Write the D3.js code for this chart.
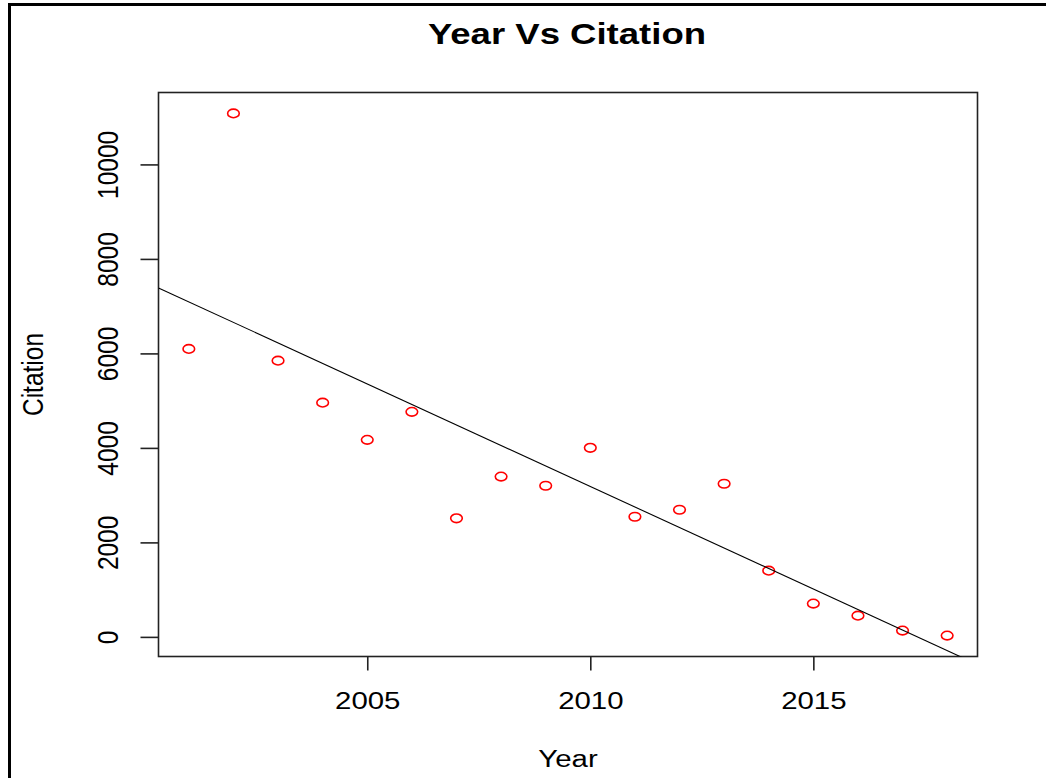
<!DOCTYPE html>
<html>
<head>
<meta charset="utf-8">
<script src="https://cdn.jsdelivr.net/npm/d3@7"></script>
<style>
    html, body { margin: 0; padding: 0; background: #fff; }
    svg { display: block; font-family: "Liberation Sans", Arial, sans-serif; }
</style>
</head>
<body>
<div id="chart"></div>
<script>
const years = [2001, 2002, 2003, 2004, 2005, 2006, 2007, 2008, 2009, 2010, 2011, 2012, 2013, 2014, 2015, 2016, 2017, 2018];
const citations = [6095, 11080, 5846, 4958, 4171, 4763, 2510, 3392, 3199, 4002, 2543, 2691, 3241, 1402, 704, 450, 133, 27];
const xTicks = [2005, 2010, 2015];
const yTicks = [0, 2000, 4000, 6000, 8000, 10000];

class ScatterChart
{
    constructor(el)
    {
        this.width = 1046;
        this.height = 778;
        this.frame = { left: 158.5, top: 92.5, right: 977.5, bottom: 656.5 };
        this.textScale = 1.2;
        this.svg = d3.select(el).append("svg")
            .attr("width", this.width)
            .attr("height", this.height);
    }

    // R style range: data extent padded by 4% on each side
    _padded(values)
    {
        const [lo, hi] = d3.extent(values);
        const pad = (hi - lo) * 0.04;
        return [lo - pad, hi + pad];
    }

    init()
    {
        const f = this.frame;
        this.x = d3.scaleLinear().domain(this._padded(years)).range([f.left, f.right]);
        this.y = d3.scaleLinear().domain(this._padded(citations)).range([f.bottom, f.top]);

        this._drawBorder();
        this._drawAxes();
        this._drawPoints();
        this._drawFit();
        this._drawTitles();
    }

    _drawBorder()
    {
        // outer frame runs off the right and bottom edges
        this.svg.append("path")
            .attr("d", `M9.5,${this.height + 5} V4.5 H${this.width + 5}`)
            .attr("fill", "none")
            .attr("stroke", "#000")
            .attr("stroke-width", 3);

        const f = this.frame;
        this.svg.append("rect")
            .attr("x", f.left).attr("y", f.top)
            .attr("width", f.right - f.left).attr("height", f.bottom - f.top)
            .attr("fill", "none")
            .attr("stroke", "#222")
            .attr("stroke-width", 1.6);
    }

    _drawAxes()
    {
        const f = this.frame;
        const s = this.textScale;

        const xAxis = this.svg.append("g")
            .attr("transform", `translate(0,${f.bottom})`)
            .call(d3.axisBottom(this.x).tickValues(xTicks).tickFormat(d3.format("d")).tickSize(14).tickSizeOuter(0));
        xAxis.select(".domain").remove();
        xAxis.selectAll("line").attr("stroke", "#222").attr("stroke-width", 1.6);
        xAxis.selectAll("text").remove();
        xAxis.selectAll(".tick").append("text")
            .attr("transform", `translate(0,52) scale(${s},1)`)
            .attr("text-anchor", "middle")
            .attr("fill", "#000")
            .attr("font-size", 24.5)
            .text(d => d);

        const yAxis = this.svg.append("g")
            .attr("transform", `translate(${f.left},0)`)
            .call(d3.axisLeft(this.y).tickValues(yTicks).tickFormat(d3.format("d")).tickSize(18).tickSizeOuter(0));
        yAxis.select(".domain").remove();
        yAxis.selectAll("line").attr("stroke", "#222").attr("stroke-width", 1.6);
        yAxis.selectAll("text").remove();
        yAxis.selectAll(".tick").append("text")
            .attr("transform", `translate(-41,0) scale(${s},1) rotate(-90)`)
            .attr("text-anchor", "middle")
            .attr("fill", "#000")
            .attr("font-size", 24.5)
            .text(d => d);
    }

    _drawPoints()
    {
        this.svg.append("g")
            .selectAll("ellipse")
            .data(years.map((yr, i) => ({ yr, c: citations[i] })))
            .join("ellipse")
            .attr("cx", d => this.x(d.yr))
            .attr("cy", d => this.y(d.c))
            .attr("rx", 5.8)
            .attr("ry", 4.3)
            .attr("fill", "none")
            .attr("stroke", "#ff0000")
            .attr("stroke-width", 1.6);
    }

    // abline(lm(citation ~ year)), clipped to the plot region
    _drawFit()
    {
        const mx = d3.mean(years), my = d3.mean(citations);
        const sxy = d3.sum(years, (v, i) => (v - mx) * (citations[i] - my));
        const sxx = d3.sum(years, v => (v - mx) * (v - mx));
        const slope = sxy / sxx;
        const icpt = my - slope * mx;

        const f = this.frame;
        this.svg.append("clipPath").attr("id", "plot-clip")
            .append("rect")
            .attr("x", f.left).attr("y", f.top)
            .attr("width", f.right - f.left).attr("height", f.bottom - f.top);

        const [x0, x1] = this.x.domain();
        this.svg.append("line")
            .attr("clip-path", "url(#plot-clip)")
            .attr("x1", this.x(x0)).attr("y1", this.y(icpt + slope * x0))
            .attr("x2", this.x(x1)).attr("y2", this.y(icpt + slope * x1))
            .attr("stroke", "#000")
            .attr("stroke-width", 1.1);
    }

    _drawTitles()
    {
        const f = this.frame;
        const cx = (f.left + f.right) / 2;
        const cy = (f.top + f.bottom) / 2;
        const s = this.textScale;

        this.svg.append("text")
            .attr("transform", `translate(${cx - 1},44) scale(1.26,1)`)
            .attr("text-anchor", "middle")
            .attr("font-size", 29)
            .attr("font-weight", "bold")
            .text("Year Vs Citation");

        this.svg.append("text")
            .attr("transform", `translate(${cx},767) scale(${s},1)`)
            .attr("text-anchor", "middle")
            .attr("font-size", 24.5)
            .text("Year");

        this.svg.append("text")
            .attr("transform", `translate(43,${cy}) scale(${s},1) rotate(-90)`)
            .attr("text-anchor", "middle")
            .attr("font-size", 24.5)
            .text("Citation");
    }
}

new ScatterChart("#chart").init();
</script>
</body>
</html>
